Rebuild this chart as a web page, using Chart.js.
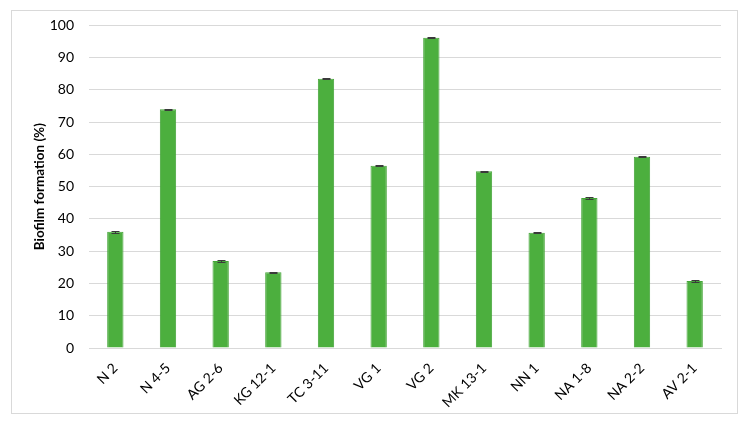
<!DOCTYPE html>
<html><head><meta charset="utf-8">
<script src="https://cdn.jsdelivr.net/npm/chart.js@4"></script>
<style>
html,body{margin:0;padding:0;background:#fff;}
#box{position:absolute;left:11px;top:10px;width:725px;height:402px;border:1px solid #d9d9d9;}
#wrap{position:absolute;left:0;top:-9px;width:725px;height:411px;}
</style></head><body>
<div id="box"><div id="wrap"><canvas id="c"></canvas></div></div>
<script>
const categories = ["N 2","N 4-5","AG 2-6","KG 12-1","TC 3-11","VG 1","VG 2","MK 13-1","NN 1","NA 1-8","NA 2-2","AV 2-1"];
const values = [36.0, 74.0, 27.0, 23.5, 83.5, 56.5, 96.2, 54.8, 35.7, 46.5, 59.3, 20.8];
const errors = [0.2, 0.2, 0.2, 0.2, 0.2, 0.2, 0.2, 0.2, 0.2, 0.2, 0.2, 0.2];
const yTicks = [0,10,20,30,40,50,60,70,80,90,100];

const errPlugin = {
  id:'errbars',
  afterDatasetsDraw(chart){
    const ctx = chart.ctx, meta = chart.getDatasetMeta(0), y = chart.scales.y;
    ctx.save(); ctx.strokeStyle='#3a3a3a'; ctx.lineWidth=1;
    meta.data.forEach((bar,i)=>{
      const x = Math.round(bar.x)+0.5, hi = Math.round(y.getPixelForValue(values[i]+errors[i]))+0.5, lo = Math.round(y.getPixelForValue(values[i]-errors[i]))+0.5;
      ctx.beginPath();
      ctx.moveTo(x,hi); ctx.lineTo(x,lo);
      ctx.moveTo(x-4,hi); ctx.lineTo(x+4,hi);
      ctx.moveTo(x-4,lo); ctx.lineTo(x+4,lo);
      ctx.stroke();
    });
    ctx.restore();
  }
};

new Chart(document.getElementById('c'),{
  type:'bar',
  data:{labels:categories,datasets:[{data:values,backgroundColor:'#4CAF3E',borderColor:'#46A53A',borderWidth:1,categoryPercentage:1,barPercentage:0.31}]},
  options:{
    responsive:true,maintainAspectRatio:false,animation:false,
    layout:{padding:{left:20,right:16,top:0,bottom:0}},
    plugins:{legend:{display:false},tooltip:{enabled:false}},
    scales:{
      x:{grid:{display:false},border:{color:'#d9d9d9'},
         afterFit(s){s.height=65;},
         ticks:{color:'#000',font:{family:'Lato',size:14},maxRotation:45,minRotation:45,padding:4}},
      y:{min:0,max:100,afterBuildTicks(s){s.ticks=yTicks.map(v=>({value:v}));},
         afterFit(s){s.width=57;},
         grid:{color:'#d9d9d9',drawTicks:false},border:{display:false},
         ticks:{color:'#000',font:{family:'Lato',size:14},padding:15},
         title:{display:true,text:'Biofilm formation (%)',color:'#000',font:{family:'Lato',size:13.5,weight:'bold'},padding:{top:0,bottom:0}}}
    }
  },
  plugins:[errPlugin]
});
</script></body></html>
